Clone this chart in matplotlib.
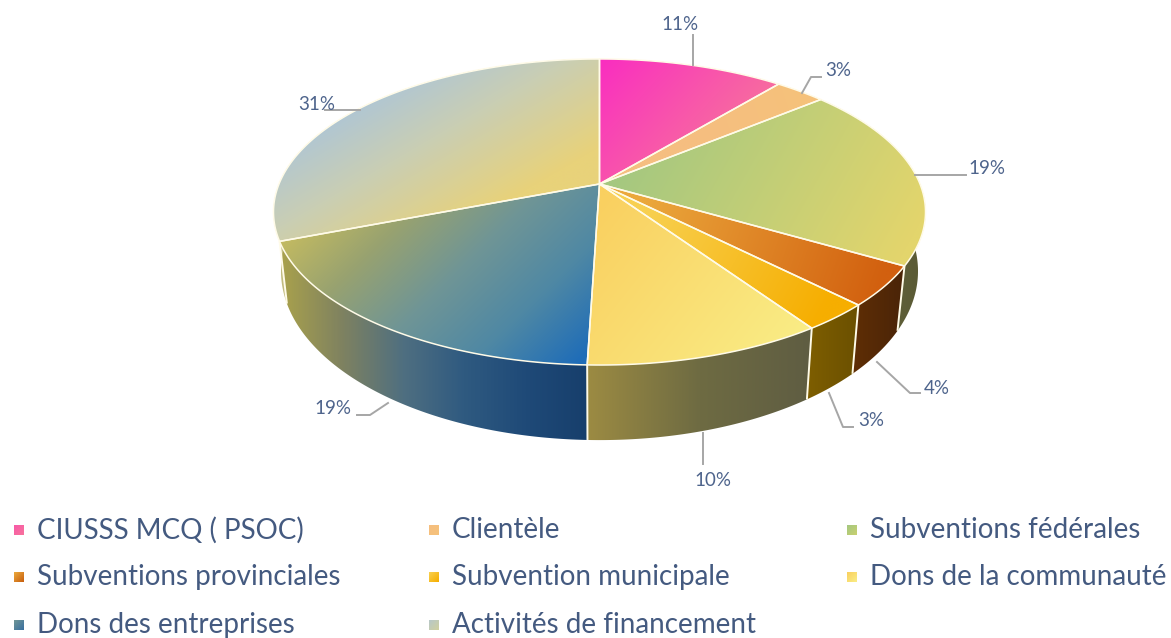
import numpy as np
import matplotlib
matplotlib.use("Agg")
import matplotlib.pyplot as plt
from matplotlib.colors import LinearSegmentedColormap
from matplotlib.patches import Polygon

categories = ["CIUSSS MCQ ( PSOC)", "Clientèle", "Subventions fédérales",
              "Subventions provinciales", "Subvention municipale", "Dons de la communauté",
              "Dons des entreprises", "Activités de financement"]
values = [11.0, 3.0, 19.4, 4.2, 2.9, 10.0, 18.6, 30.9]
percent_labels = ["11%", "3%", "19%", "4%", "3%", "10%", "19%", "31%"]

# styling ------------------------------------------------------------------
top_grad = [
    ((600, 60), (720, 170), ["#FA2EC0", "#F7729C"]),
    ((700, 140), (820, 100), ["#F5BE80", "#F6C27A"]),
    ((650, 120), (900, 260), ["#A5C880", "#E3D56C"]),
    ((640, 205), (880, 290), ["#EBA83C", "#D2600F"]),
    ((640, 220), (820, 320), ["#F8D050", "#F6AE00"]),
    ((600, 200), (790, 350), ["#F9D060", "#F9EC85"]),
    ((300, 215), (510, 430), ["#C6BC60", "#98A270", "#6F9596", "#4F88A4", "#1F6DB8"]),
    ((330, 90), (470, 330), ["#A6C3E0", "#C9CEB4", "#E8D27A", "#E8D27A"]),
]
wall_grad = [
    ["#A8408A", "#A8408A"], ["#A88050", "#A88050"], ["#6B6B42", "#5A5A35"],
    ["#5F2E05", "#4A2408"], ["#7E5E00", "#6B5000"], ["#9C8B42", "#6E6B42", "#5F5D42"],
    ["#AAA24C", "#7F8260", "#4F6F80", "#2F5A80", "#1F4A78", "#173F6C"], ["#C2BC80", "#A8A060"],
]
legend_grad = [
    ["#F85AA8", "#F7729C"], ["#F5BE80", "#F6C27A"], ["#A5C880", "#C8D070"],
    ["#EBA83C", "#C8600F"], ["#F8D050", "#F6AE00"], ["#F9D060", "#F9EC85"],
    ["#6F9596", "#3A70A0"], ["#B8C8C8", "#D0D0A0"],
]
legend_pos = [(14, 530), (429, 530), (847, 530),
              (14, 577), (429, 577), (847, 577),
              (14, 625), (429, 625)]
label_pos = [(680, 24), (838, 71), (987, 169), (937, 388), (871, 421), (713, 480), (333, 409), (317, 104)]
leaders = [
    [(692.5, 35), (692.5, 65)],
    [(802, 93), (811, 77), (821, 77)],
    [(915, 175), (966, 175)],
    [(877, 362), (910, 393), (920, 393)],
    [(829, 393), (843, 427), (853, 427)],
    [(703, 433), (703, 464)],
    [(388, 403), (370, 415), (357, 415)],
    [(325, 110), (360, 110)],
]
TEXT = "#4E648C"
LEGTEXT = "#445A80"
FONT = "Lato"

# projection of the pie disc ------------------------------------------------
CX, CY, A, B, K = 599.5, 184.0, 320.5, 147.9, 0.183
SX, YS, YO = 0.977, 1.104, 37.1


def top_pts(a):
    u, v = np.sin(a), np.cos(a)
    w = 1 + K * v
    return CX + A * u / w, CY - B * v / w


def low_pts(a):
    x, y = top_pts(a)
    return CX + (x - CX) * SX, y * YS + YO


fig = plt.figure(figsize=(11.71, 6.38), dpi=100, facecolor="white")
ax = fig.add_axes([0, 0, 1, 1])
ax.axis("off")


def grad_fill(xy, p0, p1, colors, zorder):
    poly = Polygon(xy, closed=True, transform=ax.transData, fc="none", ec="none")
    ax.add_patch(poly)
    x0, y0 = np.floor(xy.min(axis=0)) - 1
    x1, y1 = np.ceil(xy.max(axis=0)) + 1
    X, Y = np.meshgrid(np.arange(x0, x1 + 1), np.arange(y0, y1 + 1))
    dx, dy = p1[0] - p0[0], p1[1] - p0[1]
    t = np.clip(((X - p0[0]) * dx + (Y - p0[1]) * dy) / (dx * dx + dy * dy), 0, 1)
    cmap = LinearSegmentedColormap.from_list("g", colors)
    im = ax.imshow(cmap(t), extent=(x0, x1, y1, y0), origin="upper", aspect="auto",
                   interpolation="bilinear", zorder=zorder)
    im.set_clip_path(poly)


cum = np.concatenate([[0], np.cumsum(values)]) / np.sum(values) * 2 * np.pi
RIM = "#FFFBE8"

# side walls
for i in range(len(values)):
    ang = np.linspace(cum[i], cum[i + 1], 120)
    tx, ty = top_pts(ang)
    lx, ly = low_pts(ang)
    xy = np.column_stack([np.r_[tx, lx[::-1]], np.r_[ty, ly[::-1]]])
    p0 = (xy[:, 0].min(), 0)
    p1 = (xy[:, 0].max(), 0)
    grad_fill(xy, p0, p1, wall_grad[i], 2)

# wall separators
for c in cum[1:-1]:
    if np.pi / 2 < c < 3 * np.pi / 2:
        xt, yt = top_pts(c)
        xl, yl = low_pts(c)
        ax.plot([xt, xl], [yt, yl], color=RIM, lw=1.4, zorder=3, solid_capstyle="butt")

# top faces
for i in range(len(values)):
    ang = np.linspace(cum[i], cum[i + 1], 160)
    tx, ty = top_pts(ang)
    xy = np.column_stack([np.r_[CX, tx], np.r_[CY, ty]])
    p0, p1, cols = top_grad[i]
    grad_fill(xy, p0, p1, cols, 4)
    ax.add_patch(Polygon(xy, closed=True, fc="none", ec=RIM, lw=1.1, zorder=5, joinstyle="round"))

# leader lines and value labels
for pts, pos, lab in zip(leaders, label_pos, percent_labels):
    p = np.array(pts)
    ax.plot(p[:, 0], p[:, 1], color="#A6A6A6", lw=1.4, zorder=6)
    ax.text(pos[0], pos[1], lab, ha="center", va="center", color=TEXT,
            fontsize=13.5, family=FONT, zorder=7)

# legend
for name, (x, y), cols in zip(categories, legend_pos, legend_grad):
    xy = np.array([(x, y - 5), (x + 10, y - 5), (x + 10, y + 5), (x, y + 5)], float)
    grad_fill(xy, (x, y - 5), (x + 10, y + 5), cols, 4)
    ax.text(x + 23, y, name, ha="left", va="center", color=LEGTEXT, fontsize=20, family=FONT)

ax.set_xlim(0, 1171)
ax.set_ylim(638, 0)
fig.savefig("out.png", dpi=100, facecolor="white")
